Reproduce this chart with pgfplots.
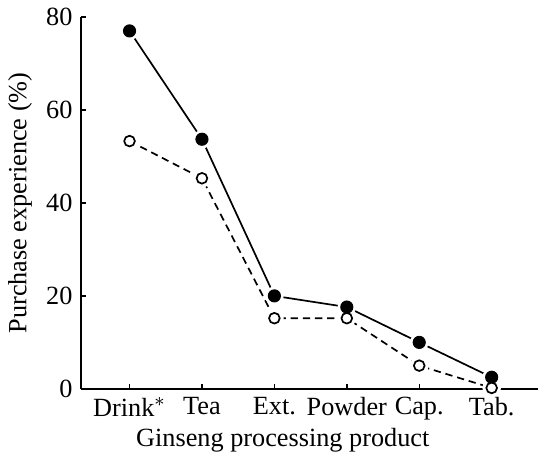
\documentclass[border=0pt]{standalone}
\usepackage{pgfplots}
\pgfplotsset{compat=1.18}
\usepackage{fontspec}
\setmainfont{Liberation Serif}
\begin{document}
\begin{tikzpicture}
\begin{axis}[
  scale only axis,
  width=188pt, height=153pt,
  xmin=-0.67, xmax=5.64,
  ymin=0, ymax=80,
  axis x line=bottom, axis y line=left,
  axis line style={-, line width=0.8pt},
  xtick={0,1,2,3,4,5},
  xticklabels={Drink$^{*}$,Tea,Ext.,Powder,Cap.,Tab.},
  ytick={0,20,40,60,80},
  x tick style={line width=0.6pt, black},
  y tick style={line width=0.6pt, black},
  tick align=inside,
  major tick length=2pt,
  tick label style={font=\fontsize{10.8}{13}\selectfont},
  label style={font=\fontsize{10.8}{13}\selectfont},
  /pgf/number format/assume math mode=true,
  xlabel={Ginseng processing product},
  ylabel={Purchase experience (\%)},
  xlabel style={yshift=3.5pt, xshift=-11pt},
  ylabel style={yshift=-1pt},
  clip=false,
]
\addplot[black, line width=0.7pt, mark=none] coordinates {(0,77) (1,53.7) (2,20) (3,17.6) (4,10) (5,2.5)};
\addplot[black, line width=0.7pt, dash pattern=on 3pt off 2pt, mark=none] coordinates {(0,53.3) (1,45.3) (2,15.2) (3,15.2) (4,5) (5,0.2)};
\addplot[only marks, mark=*, mark size=3.6pt, draw=white, fill=white] coordinates {(0,77) (1,53.7) (2,20) (3,17.6) (4,10) (5,2.5)};
\addplot[only marks, mark=*, mark size=3.6pt, draw=white, fill=white] coordinates {(0,53.3) (1,45.3) (2,15.2) (3,15.2) (4,5) (5,0.2)};
\addplot[only marks, mark=*, mark size=2.5pt, draw=black, fill=black] coordinates {(0,77) (1,53.7) (2,20) (3,17.6) (4,10) (5,2.5)};
\addplot[only marks, mark=*, mark size=2.2pt, draw=black, fill=white, line width=0.7pt] coordinates {(0,53.3) (1,45.3) (2,15.2) (3,15.2) (4,5) (5,0.2)};
\end{axis}
\end{tikzpicture}
\end{document}
